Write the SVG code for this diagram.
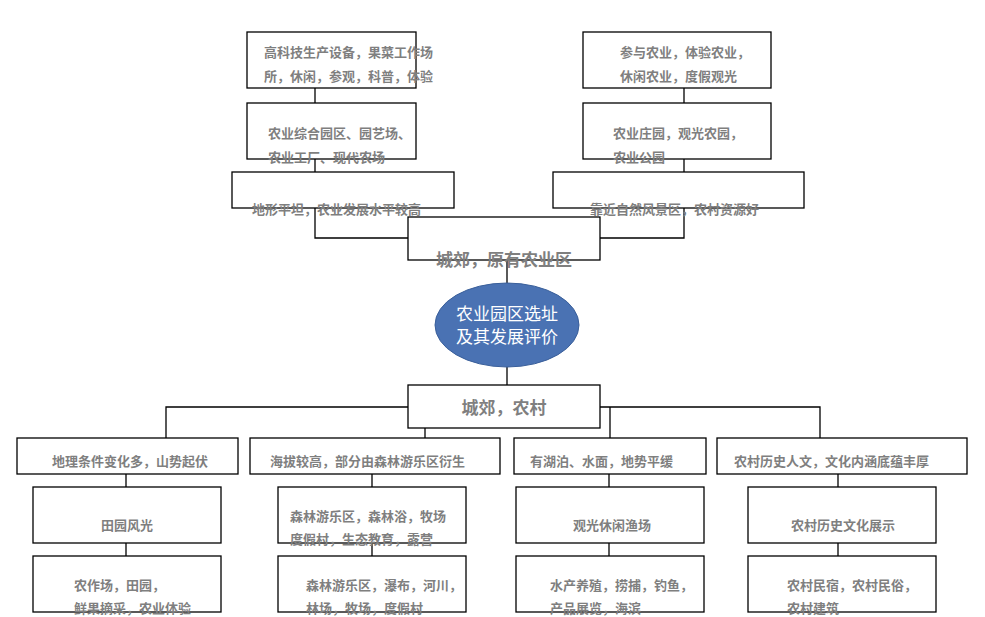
<svg xmlns="http://www.w3.org/2000/svg" width="985" height="617" viewBox="0 0 985 617">
<style>
.b{fill:#fff;stroke:#000;stroke-width:1.3}
.t{font-family:"Noto Sans CJK SC",sans-serif;fill:#7f7f7f;font-size:13px;font-weight:bold}
.m{font-family:"Noto Sans CJK SC",sans-serif;fill:#7f7f7f;font-size:17px;font-weight:bold}
.c line,.c polyline{stroke:#000;stroke-width:1.3;fill:none}
</style>
<rect width="985" height="617" fill="#fff"/>
<g class="c" id="connectors">
<line x1="315" y1="88" x2="315" y2="103"/><line x1="315" y1="159" x2="315" y2="172"/>
<polyline points="315,208 315,238 408,238"/>
<line x1="684" y1="88" x2="684" y2="103"/><line x1="684" y1="159" x2="684" y2="172"/>
<polyline points="684,208 684,238 600,238"/>
<line x1="507" y1="260" x2="507" y2="284"/><line x1="507" y1="366" x2="507" y2="385"/>
<polyline points="166,438 166,407 820,407 820,438"/>
<line x1="425" y1="407" x2="425" y2="438"/><line x1="610" y1="407" x2="610" y2="438"/>
<line x1="126" y1="474" x2="126" y2="487"/><line x1="126" y1="543" x2="126" y2="556"/>
<line x1="372" y1="474" x2="372" y2="487"/><line x1="372" y1="543" x2="372" y2="556"/>
<line x1="609" y1="474" x2="609" y2="487"/><line x1="609" y1="543" x2="609" y2="556"/>
<line x1="838" y1="474" x2="838" y2="487"/><line x1="838" y1="543" x2="838" y2="556"/>
</g>
<g id="n1"><rect class="b" x="247" y="32" width="169" height="56"/><text class="t" x="264" y="57">高科技生产设备，果菜工作场</text><text class="t" x="264" y="81">所，休闲，参观，科普，体验</text></g>
<g id="n2"><rect class="b" x="247" y="103" width="169" height="56"/><text class="t" x="268" y="138">农业综合园区、园艺场、</text><text class="t" x="268" y="162">农业工厂、现代农场</text></g>
<g id="n3"><rect class="b" x="232" y="172" width="222" height="36"/><text class="t" x="252" y="214">地形平坦，农业发展水平较高</text></g>
<g id="n4"><rect class="b" x="583" y="32" width="188" height="56"/><text class="t" x="620" y="57">参与农业，体验农业，</text><text class="t" x="620" y="81">休闲农业，度假观光</text></g>
<g id="n5"><rect class="b" x="583" y="103" width="188" height="56"/><text class="t" x="613" y="138">农业庄园，观光农园，</text><text class="t" x="613" y="162">农业公园</text></g>
<g id="n6"><rect class="b" x="553" y="172" width="251" height="36"/><text class="t" x="590" y="214">靠近自然风景区，农村资源好</text></g>
<g id="n7"><rect class="b" x="408" y="217" width="192" height="43"/><text class="m" x="504" y="266" text-anchor="middle">城郊，原有农业区</text></g>
<g id="n8"><ellipse cx="507" cy="325" rx="72" ry="42" fill="#4a72b3" stroke="#3a5f9a"/><text x="507" y="320" text-anchor="middle" font-family="Noto Sans CJK SC,sans-serif" font-size="17" fill="#fff">农业园区选址</text><text x="507" y="343" text-anchor="middle" font-family="Noto Sans CJK SC,sans-serif" font-size="17" fill="#fff">及其发展评价</text></g>
<g id="n9"><rect class="b" x="408" y="385" width="192" height="43"/><text class="m" x="504" y="414" text-anchor="middle">城郊，农村</text></g>
<g id="a1"><rect class="b" x="17" y="438" width="221" height="36"/><text class="t" x="52" y="466">地理条件变化多，山势起伏</text></g>
<g id="a2"><rect class="b" x="33" y="487" width="188" height="56"/><text class="t" x="127" y="530" text-anchor="middle">田园风光</text></g>
<g id="a3"><rect class="b" x="33" y="556" width="188" height="56"/><text class="t" x="74" y="590">农作场，田园，</text><text class="t" x="74" y="613">鲜果摘采，农业体验</text></g>
<g id="b1"><rect class="b" x="250" y="438" width="250" height="36"/><text class="t" x="270" y="466">海拔较高，部分由森林游乐区衍生</text></g>
<g id="b2"><rect class="b" x="278" y="487" width="188" height="56"/><text class="t" x="290" y="521">森林游乐区，森林浴，牧场</text><text class="t" x="290" y="544">度假村，生态教育，露营</text></g>
<g id="b3"><rect class="b" x="278" y="556" width="188" height="56"/><text class="t" x="306" y="590">森林游乐区，瀑布，河川，</text><text class="t" x="306" y="613">林场，牧场，度假村</text></g>
<g id="c1"><rect class="b" x="514" y="438" width="192" height="36"/><text class="t" x="530" y="466">有湖泊、水面，地势平缓</text></g>
<g id="c2"><rect class="b" x="516" y="487" width="188" height="56"/><text class="t" x="612" y="530" text-anchor="middle">观光休闲渔场</text></g>
<g id="c3"><rect class="b" x="516" y="556" width="188" height="56"/><text class="t" x="550" y="590">水产养殖，捞捕，钓鱼，</text><text class="t" x="550" y="613">产品展览，海滨</text></g>
<g id="d1"><rect class="b" x="717" y="438" width="250" height="36"/><text class="t" x="734" y="466">农村历史人文，文化内涵底蕴丰厚</text></g>
<g id="d2"><rect class="b" x="748" y="487" width="188" height="56"/><text class="t" x="843" y="530" text-anchor="middle">农村历史文化展示</text></g>
<g id="d3"><rect class="b" x="748" y="556" width="188" height="56"/><text class="t" x="787" y="590">农村民宿，农村民俗，</text><text class="t" x="787" y="613">农村建筑</text></g>
</svg>
